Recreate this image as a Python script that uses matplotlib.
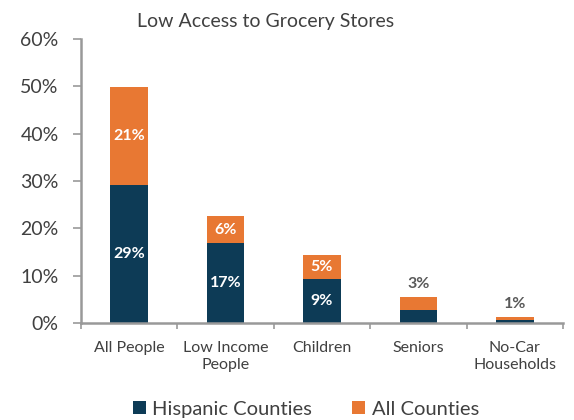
import numpy as np
import matplotlib.pyplot as plt
from matplotlib.ticker import FixedLocator, NullFormatter

# data (percent)
categories = ["All People", "Low Income\nPeople", "Children", "Seniors", "No-Car\nHouseholds"]
hispanic = [29.2, 16.9, 9.3, 2.7, 0.6]
all_counties = [20.7, 5.7, 5.1, 2.8, 0.7]
hispanic_labels = ["29%", "17%", "9%", "", ""]
all_labels = ["21%", "6%", "5%", "3%", "1%"]

dark = "#0d3b56"
orange = "#e87833"
grey_text = "#404040"
axis_col = "#999999"

plt.rcParams["font.family"] = ["Lato", "DejaVu Sans"]

fig = plt.figure(figsize=(5.74, 4.2), dpi=100)
ax = fig.add_axes([0.141, 0.231, 0.840, 0.676])

x = np.arange(len(categories))
w = 0.39
b1 = ax.bar(x, hispanic, w, color=dark, label="Hispanic Counties")
b2 = ax.bar(x, all_counties, w, bottom=hispanic, color=orange, label="All Counties")

# labels inside segments for the tall bars, above the bar for the small ones
for i in range(len(categories)):
    if hispanic_labels[i]:
        ax.text(x[i], hispanic[i] / 2, hispanic_labels[i], ha="center", va="center",
                color="white", fontsize=11.5, fontweight="bold")
    top = hispanic[i] + all_counties[i]
    if all_counties[i] > 4:
        ax.text(x[i], hispanic[i] + all_counties[i] / 2, all_labels[i], ha="center",
                va="center", color="white", fontsize=11.5, fontweight="bold")
    else:
        ax.text(x[i], top + 1.2, all_labels[i], ha="center", va="bottom",
                color="#595959", fontsize=11.5, fontweight="bold")

ax.set_xlim(-0.5, len(categories) - 0.5)
ax.set_ylim(0, 60)
ax.set_yticks(range(0, 61, 10))
ax.set_yticklabels([f"{v}%" for v in range(0, 61, 10)], fontsize=14, color=grey_text)

ax.xaxis.set_major_locator(FixedLocator(np.arange(-0.5, len(categories), 1.0)))
ax.xaxis.set_major_formatter(NullFormatter())
ax.set_xticks(x, minor=True)
ax.set_xticklabels(categories, minor=True, fontsize=11.5, color=grey_text, linespacing=1.3)
ax.tick_params(axis="x", which="minor", length=0, pad=13)
ax.tick_params(axis="x", which="major", length=4, color=axis_col, width=1.2)
ax.tick_params(axis="y", length=6, color=axis_col, width=1.2, pad=10)

for s in ["top", "right"]:
    ax.spines[s].set_visible(False)
for s in ["left", "bottom"]:
    ax.spines[s].set_color(axis_col)
    ax.spines[s].set_linewidth(1.8)

fig.text(0.463, 0.95, "Low Access to Grocery Stores", ha="center", va="center",
         fontsize=14, color=grey_text)

fig.legend(handles=[b1, b2], loc="center", bbox_to_anchor=(0.533, 0.026), ncol=2,
           frameon=False, fontsize=14.5, handlelength=0.65, handleheight=0.65,
           handletextpad=0.3, columnspacing=2.0, labelcolor=grey_text)

fig.savefig("out.png", dpi=100)
